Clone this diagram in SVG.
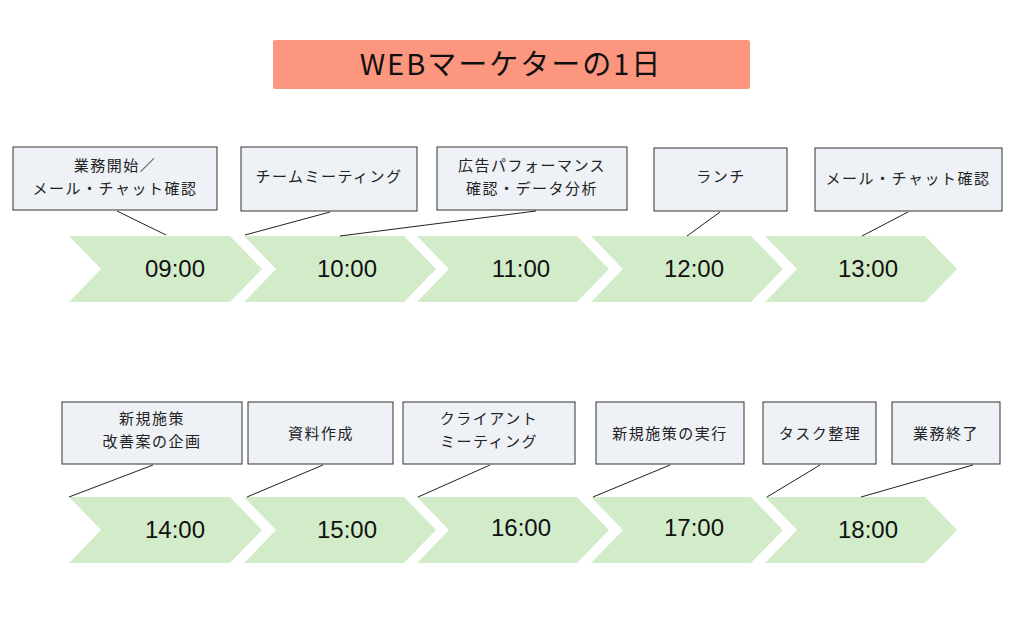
<svg xmlns="http://www.w3.org/2000/svg" width="1024" height="625" viewBox="0 0 1024 625">
<style>
.chev{fill:#d2ecca}
.box{fill:#eef1f6;stroke:#333;stroke-width:1}
.lbl{font-family:"Noto Sans CJK JP","Noto Sans",sans-serif;font-size:15px;fill:#222;text-anchor:middle;letter-spacing:1.5px}
.time{font-family:"Liberation Sans","Noto Sans",sans-serif;font-size:24px;fill:#111;text-anchor:middle}
.ln{stroke:#222;stroke-width:1;fill:none}
</style>
<rect width="1024" height="625" fill="#fff"/>
<g id="title"><rect x="273" y="40" width="477" height="49" rx="2" fill="#fd967e"/>
<text x="511" y="75" font-family="Noto Sans CJK JP,sans-serif" font-size="29" text-anchor="middle" fill="#111" letter-spacing="2">WEBマーケターの1日</text></g>
<g id="chevrons">
<g id="c1"><polygon class="chev" points="69,236 230,236 262,269 230,302 69,302 101,269"/><text class="time" x="175" y="277">09:00</text></g>
<g id="c2"><polygon class="chev" points="244,236 404,236 436,269 404,302 244,302 276,269"/><text class="time" x="347" y="277">10:00</text></g>
<g id="c3"><polygon class="chev" points="417,236 577,236 609,269 577,302 417,302 449,269"/><text class="time" x="521" y="277">11:00</text></g>
<g id="c4"><polygon class="chev" points="591,236 751,236 783,269 751,302 591,302 623,269"/><text class="time" x="694" y="277">12:00</text></g>
<g id="c5"><polygon class="chev" points="765,236 925,236 957,269 925,302 765,302 797,269"/><text class="time" x="868" y="277">13:00</text></g>
<g id="c6"><polygon class="chev" points="69,497 230,497 262,530 230,563 69,563 101,530"/><text class="time" x="175" y="538">14:00</text></g>
<g id="c7"><polygon class="chev" points="244,497 404,497 436,530 404,563 244,563 276,530"/><text class="time" x="347" y="538">15:00</text></g>
<g id="c8"><polygon class="chev" points="417,497 577,497 609,530 577,563 417,563 449,530"/><text class="time" x="521" y="536">16:00</text></g>
<g id="c9"><polygon class="chev" points="591,497 751,497 783,530 751,563 591,563 623,530"/><text class="time" x="694" y="536">17:00</text></g>
<g id="c10"><polygon class="chev" points="765,497 925,497 957,530 925,563 765,563 797,530"/><text class="time" x="868" y="538">18:00</text></g>
</g>
<g id="connectors">
<line class="ln" x1="117" y1="211" x2="166" y2="235"/>
<line class="ln" x1="330" y1="212" x2="245" y2="235"/>
<line class="ln" x1="536" y1="211" x2="340" y2="236"/>
<line class="ln" x1="720" y1="212" x2="687" y2="236"/>
<line class="ln" x1="908" y1="212" x2="862" y2="236"/>
<line class="ln" x1="153" y1="465" x2="69" y2="497"/>
<line class="ln" x1="323" y1="465" x2="247" y2="497"/>
<line class="ln" x1="490" y1="465" x2="418" y2="497"/>
<line class="ln" x1="670" y1="465" x2="593" y2="497"/>
<line class="ln" x1="820" y1="465" x2="767" y2="497"/>
<line class="ln" x1="973" y1="465" x2="861" y2="497"/>
</g>
<g id="n1"><rect class="box" x="13" y="147" width="204" height="63"/><text class="lbl" x="115" y="171">業務開始／</text><text class="lbl" x="115" y="194">メール・チャット確認</text></g>
<g id="n2"><rect class="box" x="241" y="147" width="176" height="64"/><text class="lbl" x="329" y="182">チームミーティング</text></g>
<g id="n3"><rect class="box" x="437" y="147" width="190" height="63"/><text class="lbl" x="532" y="171">広告パフォーマンス</text><text class="lbl" x="532" y="194">確認・データ分析</text></g>
<g id="n4"><rect class="box" x="654" y="148" width="133" height="63"/><text class="lbl" x="721" y="182">ランチ</text></g>
<g id="n5"><rect class="box" x="815" y="148" width="187" height="63"/><text class="lbl" x="908" y="184">メール・チャット確認</text></g>
<g id="n6"><rect class="box" x="62" y="402" width="180" height="62"/><text class="lbl" x="152" y="424">新規施策</text><text class="lbl" x="152" y="447">改善案の企画</text></g>
<g id="n7"><rect class="box" x="248" y="402" width="145" height="62"/><text class="lbl" x="321" y="439">資料作成</text></g>
<g id="n8"><rect class="box" x="403" y="402" width="172" height="62"/><text class="lbl" x="489" y="424">クライアント</text><text class="lbl" x="489" y="447">ミーティング</text></g>
<g id="n9"><rect class="box" x="596" y="402" width="148" height="62"/><text class="lbl" x="670" y="439">新規施策の実行</text></g>
<g id="n10"><rect class="box" x="763" y="402" width="113" height="62"/><text class="lbl" x="820" y="439">タスク整理</text></g>
<g id="n11"><rect class="box" x="892" y="402" width="108" height="62"/><text class="lbl" x="946" y="439">業務終了</text></g>
</svg>
